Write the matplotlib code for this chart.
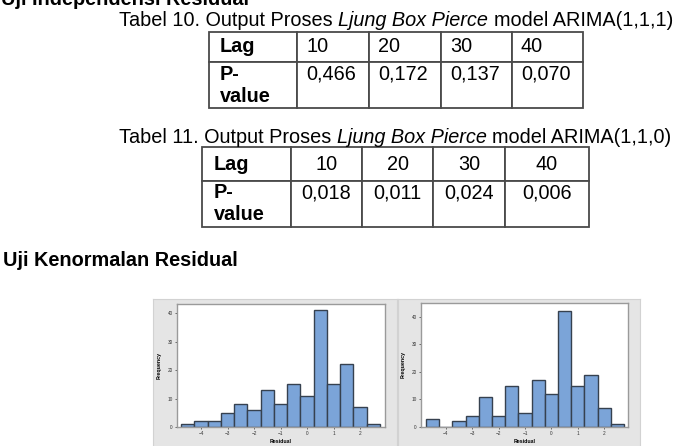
import matplotlib
matplotlib.use("Agg")
import matplotlib.pyplot as plt

plt.rcParams["font.family"] = ["Liberation Sans", "DejaVu Sans"]

W, H = 675, 446
FS = 14.3

# Tabel 10 / 11: Ljung Box Pierce
lags = ["10", "20", "30", "40"]
pval_111 = ["0,466", "0,172", "0,137", "0,070"]
pval_110 = ["0,018", "0,011", "0,024", "0,006"]

# Histogram residual (titik tengah kelas, lebar 0.5)
bin_centers = [-4.5, -4.0, -3.5, -3.0, -2.5, -2.0, -1.5, -1.0, -0.5, 0.0, 0.5, 1.0, 1.5, 2.0, 2.5]
freq_111 = [1, 2, 2, 5, 8, 6, 13, 8, 15, 11, 41, 15, 22, 7, 1]
freq_110 = [3, 0, 2, 4, 11, 4, 15, 5, 17, 12, 42, 15, 19, 7, 1]
x_ticks = [-4, -3, -2, -1, 0, 1, 2]
y_ticks = [0, 10, 20, 30, 40]


def px_axes(fig, x0, y0, x1, y1):
    # kotak dalam piksel (origin kiri atas) -> koordinat figure
    return fig.add_axes([x0 / W, 1 - y1 / H, (x1 - x0) / W, (y1 - y0) / H])


def caption(fig, x, y, parts):
    # teks campuran normal / miring, disusun berurutan
    r = fig.canvas.get_renderer()
    gap = 0.278 * FS * 100 / 72
    for s, style in parts:
        t = fig.text(x / W, 1 - y / H, s, fontsize=FS, style=style, va="baseline")
        x = t.get_window_extent(r).x1 + gap


def draw_table(fig, box, col_px, row_px, values, num_ha, pad):
    ax = px_axes(fig, *box)
    ax.set_axis_off()
    cells = [["Lag"] + lags, ["P-\nvalue"] + [v + "\n" for v in values]]
    tb = ax.table(cellText=cells, colWidths=col_px, cellLoc="left", bbox=[0, 0, 1, 1])
    tb.auto_set_font_size(False)
    tb.set_fontsize(FS)
    for (r, c), cell in tb.get_celld().items():
        cell.set_height(row_px[r])
        cell.set_edgecolor("#4a4a4a")
        cell.set_linewidth(1.3)
        cell.PAD = pad
        txt = cell.get_text()
        if c == 0:
            txt.set_fontweight("bold")
        else:
            txt.set_ha(num_ha)


def draw_hist(fig, panel, plot, counts, xlim, ylim):
    bg = px_axes(fig, *panel)
    bg.set_facecolor("#e5e5e5")
    bg.set_xticks([])
    bg.set_yticks([])
    for s in bg.spines.values():
        s.set_color("#d2d2d2")

    ax = px_axes(fig, *plot)
    ax.bar(bin_centers, counts, width=0.5, color="#7ba4d8", edgecolor="#36414f", linewidth=1.0)
    ax.set_xlim(xlim)
    ax.set_ylim(ylim)
    ax.set_xticks(x_ticks)
    ax.set_yticks(y_ticks)
    ax.tick_params(labelsize=3.4, length=1.5, width=0.5, pad=1.5, colors="#333333")
    for s in ax.spines.values():
        s.set_color("#9a9a9a")
        s.set_linewidth(1.0)
    ax.set_xlabel("Residual", fontsize=3.8, fontweight="bold", labelpad=2)
    ax.set_ylabel("Frequency", fontsize=3.8, fontweight="bold", labelpad=4)


fig = plt.figure(figsize=(W / 100, H / 100), dpi=100)

fig.text(1 / W, 1 - 5 / H, "Uji Independensi Residual", fontsize=FS, fontweight="bold", va="baseline")
caption(fig, 119, 26, [("Tabel 10. Output Proses", "normal"), ("Ljung Box Pierce", "italic"),
                       ("model ARIMA(1,1,1)", "normal")])
draw_table(fig, (209, 32, 583, 108), [88, 72, 72, 71, 71], [30, 46], pval_111, "left", 0.125)

caption(fig, 119, 143, [("Tabel 11. Output Proses", "normal"), ("Ljung Box Pierce", "italic"),
                        ("model ARIMA(1,1,0)", "normal")])
draw_table(fig, (202, 147, 589, 227), [88.6, 71.4, 71, 71.7, 84.3], [34, 46], pval_110, "center", 0.13)

fig.text(3 / W, 1 - 266 / H, "Uji Kenormalan Residual", fontsize=FS, fontweight="bold", va="baseline")

draw_hist(fig, (153, 299, 397, 452), (177, 304, 385, 427), freq_111, (-4.91, 2.94), (0, 43.2))
draw_hist(fig, (398, 299, 640, 452), (421, 303, 628, 427), freq_110, (-4.94, 2.9), (0, 45))

fig.savefig("out.png", dpi=100)
